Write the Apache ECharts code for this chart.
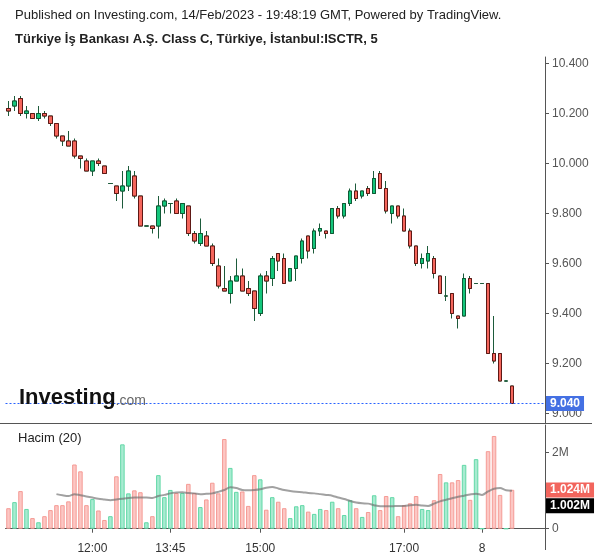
<!DOCTYPE html>
<html>
<head>
<meta charset="utf-8">
<script src="https://cdn.jsdelivr.net/npm/echarts@6.0.0/dist/echarts.min.js"></script>
<style>
html,body{margin:0;padding:0;background:#fff;}
#chart{width:600px;height:558px;}
</style>
</head>
<body>
<div id="chart"></div>
<script>
// ---- data ----
const categories = [
 '10:50','10:55','11:00','11:05','11:10','11:15','11:20','11:25','11:30','11:35','11:40','11:45','11:50','11:55',
 '12:00','12:05','12:10','12:15','12:20','12:25','12:30',
 '13:15','13:20','13:25','13:30','13:35','13:40','13:45','13:50','13:55','14:00','14:05','14:10','14:15','14:20','14:25','14:30','14:35','14:40','14:45','14:50','14:55',
 '15:00','15:05','15:10','15:15','15:20','15:25','15:30','15:35','15:40','15:45','15:50','15:55','16:00','16:05','16:10','16:15','16:20','16:25','16:30','16:35','16:40','16:45','16:50','16:55','17:00',
 '17:05','17:10','17:15','17:20','17:25','17:30','17:35','17:40','17:45','17:50','17:55','18:00',
 '8 10:00','8 10:05','8 10:10','8 10:15','8 10:20','8 10:25'
];
const opens = [10.22,10.23,10.26,10.20,10.20,10.18,10.20,10.19,10.16,10.11,10.09,10.09,10.03,10.01,9.97,10.01,9.99,9.92,9.91,9.89,
 9.91,9.95,9.87,9.75,9.75,9.75,9.83,9.84,9.85,9.80,9.83,9.72,9.68,9.71,9.67,9.59,9.50,9.48,9.53,9.55,
 9.50,9.49,9.40,9.55,9.54,9.64,9.62,9.53,9.58,9.62,9.71,9.66,9.73,9.73,9.72,9.82,9.79,9.84,9.89,9.87,
 9.90,9.88,9.96,9.90,9.80,9.83,9.79,9.73,9.67,9.60,9.61,9.62,9.55,9.47,9.48,9.39,9.39,9.54,9.52,9.52,
 9.52,9.24,9.24,9.13,9.11];
const closes = [10.21,10.25,10.20,10.21,10.18,10.20,10.19,10.16,10.11,10.09,10.07,10.03,10.02,9.97,10.01,10.00,9.96,9.92,9.88,9.91,
 9.97,9.87,9.75,9.75,9.74,9.83,9.85,9.84,9.80,9.84,9.72,9.69,9.72,9.67,9.60,9.51,9.49,9.53,9.55,9.49,
 9.48,9.42,9.55,9.53,9.62,9.61,9.52,9.58,9.63,9.69,9.65,9.73,9.74,9.72,9.82,9.79,9.84,9.89,9.86,9.89,
 9.88,9.94,9.90,9.81,9.83,9.79,9.73,9.67,9.60,9.62,9.64,9.56,9.48,9.47,9.40,9.38,9.54,9.50,9.52,9.52,
 9.24,9.21,9.13,9.13,9.04];
const lows = [10.19,10.21,10.19,10.18,10.18,10.17,10.18,10.15,10.10,10.07,10.07,10.02,9.98,9.97,9.95,9.99,9.96,9.92,9.85,9.82,
 9.89,9.86,9.75,9.75,9.72,9.70,9.80,9.80,9.80,9.78,9.71,9.68,9.67,9.67,9.59,9.50,9.49,9.44,9.53,9.49,
 9.47,9.37,9.39,9.48,9.51,9.57,9.52,9.53,9.53,9.60,9.62,9.64,9.71,9.70,9.72,9.78,9.78,9.83,9.85,9.86,
 9.87,9.88,9.90,9.80,9.76,9.78,9.73,9.66,9.59,9.58,9.58,9.54,9.48,9.45,9.38,9.34,9.39,9.48,9.52,9.52,
 9.24,9.20,9.13,9.13,9.04];
const highs = [10.25,10.27,10.27,10.23,10.20,10.23,10.21,10.19,10.16,10.11,10.13,10.10,10.03,10.02,10.01,10.02,9.99,9.92,9.91,9.97,
 9.99,9.97,9.87,9.75,9.75,9.87,9.86,9.84,9.86,9.84,9.83,9.73,9.78,9.73,9.68,9.62,9.59,9.55,9.62,9.58,
 9.53,9.49,9.56,9.57,9.63,9.64,9.64,9.58,9.63,9.70,9.71,9.74,9.76,9.73,9.82,9.83,9.84,9.90,9.92,9.89,
 9.91,9.97,9.97,9.93,9.83,9.83,9.82,9.74,9.67,9.64,9.67,9.63,9.55,9.55,9.48,9.39,9.56,9.55,9.52,9.52,
 9.52,9.39,9.24,9.13,9.11];
// volume in millions
const volumes = [0.54,0.70,0.99,0.52,0.28,0.17,0.33,0.49,0.62,0.62,0.72,1.69,1.51,0.62,0.78,0.48,0.23,0.33,1.38,2.22,
 0.93,1.01,0.96,0.17,0.33,1.41,0.83,1.02,0.94,0.94,1.18,0.94,0.57,0.77,1.21,0.93,2.36,1.60,0.97,0.98,
 0.60,1.41,1.30,0.50,0.83,0.71,0.54,0.28,0.59,0.62,0.45,0.39,0.52,0.49,0.71,0.54,0.36,0.75,0.54,0.31,
 0.44,0.88,0.49,0.86,0.83,0.33,0.62,0.67,0.86,0.52,0.49,0.75,1.44,1.22,1.22,1.28,1.68,0.76,1.83,0,
 2.04,2.44,0.89,0,1.024];
// 20-period volume average (Hacim (20)), millions
const volumeMA20 = [null,null,null,null,null,null,null,null,0.91,0.88,0.86,0.91,0.88,0.85,0.82,0.79,0.77,0.75,0.77,0.79,
 0.81,0.82,0.82,0.82,0.81,0.86,0.89,0.93,0.95,0.96,0.94,0.93,0.91,0.92,0.93,0.97,1.02,1.09,1.07,1.02,
 1.01,1.02,1.04,1.08,1.10,1.06,1.02,0.99,0.97,0.96,0.94,0.93,0.91,0.89,0.87,0.82,0.78,0.73,0.69,0.67,
 0.66,0.62,0.59,0.59,0.59,0.60,0.60,0.62,0.63,0.61,0.60,0.66,0.72,0.76,0.80,0.84,0.87,0.90,0.92,0.89,
 0.98,1.05,1.07,1.01,1.002];
const xTickIndex = [14, 27, 42, 66, 79];
const xTickLabels = ['12:00', '13:45', '15:00', '17:00', '8'];
const volumeTickLabels = {0: '0', 2: '2M'};
const emptySlots = 5; // right-hand empty space of the price scale

// ---- build ----
const FONT = '"Liberation Sans", Arial, sans-serif';
const cats = categories.concat(Array.from({length: emptySlots}, (_, i) => 'pad' + i));
const wickData = opens.map((o, i) => [o, closes[i], lows[i], highs[i]]);
const bodyData = opens.map((o, i) => [o, closes[i], Math.min(o, closes[i]), Math.max(o, closes[i])]);
const volData = volumes.map((v, i) => {
  const up = closes[i] >= opens[i];
  return {value: v, itemStyle: {color: up ? '#a8ebd1' : '#fcc7c4', borderColor: up ? '#62d8a7' : '#f59b95'}};
});
const lastClose = closes[closes.length - 1];
const lastVol = volumes[volumes.length - 1];
const lastMA = volumeMA20[volumeMA20.length - 1];

const WICK = '#1d5b3b';
const tickFn = (idx) => xTickIndex.indexOf(idx) >= 0;
const tagLabel = (text, bg, extra) => Object.assign({
  show: true, position: 'end', distance: 1, formatter: text,
  backgroundColor: bg, color: '#fff', fontWeight: 'bold', fontSize: 12, fontFamily: FONT, padding: [2, 4, 1, 4]
}, extra || {});

const chart = echarts.init(document.getElementById('chart'), null, {renderer: 'canvas'});
chart.setOption({
  animation: false,
  backgroundColor: '#fff',
  textStyle: {fontFamily: FONT},
  grid: [
    {left: 5.5, right: 55, top: 57, bottom: 135},
    {left: 5.5, right: 55, top: 425, bottom: 21}
  ],
  xAxis: [
    {type: 'category', gridIndex: 0, data: cats, boundaryGap: true,
     axisLine: {show: false}, axisTick: {show: false}, axisLabel: {show: false}, splitLine: {show: false}},
    {type: 'category', gridIndex: 1, data: cats, boundaryGap: true,
     axisLine: {show: true, lineStyle: {color: '#555', width: 1}},
     axisTick: {show: true, alignWithLabel: true, interval: tickFn, length: 4, lineStyle: {color: '#555'}},
     axisLabel: {show: true, interval: tickFn, color: '#333', fontSize: 12, fontFamily: FONT, margin: 6,
       formatter: (v, idx) => { const k = xTickIndex.indexOf(idx); return k >= 0 ? xTickLabels[k] : ''; }},
     splitLine: {show: false}}
  ],
  yAxis: [
    {type: 'value', gridIndex: 0, position: 'right', min: 8.962, max: 10.426, splitNumber: 7, scale: true,
     splitLine: {show: false},
     axisLine: {show: true, lineStyle: {color: '#555'}},
     axisTick: {show: true, length: 4, lineStyle: {color: '#555'}},
     axisLabel: {color: '#555', fontSize: 12, fontFamily: FONT, margin: 7, showMinLabel: false, showMaxLabel: false,
       formatter: v => v.toFixed(3)}},
    {type: 'value', gridIndex: 1, position: 'right', min: -0.218, max: 2.729, splitNumber: 3,
     splitLine: {show: false},
     axisLine: {show: true, lineStyle: {color: '#555'}},
     axisTick: {show: true, length: 4, lineStyle: {color: '#555'}},
     axisLabel: {color: '#555', fontSize: 12, fontFamily: FONT, margin: 7, showMinLabel: false, showMaxLabel: false,
       formatter: v => { const r = Math.round(v); return Math.abs(v - r) < 1e-9 && volumeTickLabels[r] !== undefined ? volumeTickLabels[r] : ''; }}}
  ],
  series: [
    {type: 'candlestick', name: 'wick', xAxisIndex: 0, yAxisIndex: 0, data: wickData, barWidth: 4, z: 2, silent: true,
     itemStyle: {color: 'rgba(0,0,0,0)', color0: 'rgba(0,0,0,0)', borderColor: WICK, borderColor0: WICK, borderColorDoji: WICK, borderWidth: 1}},
    {type: 'candlestick', name: 'ISCTR', xAxisIndex: 0, yAxisIndex: 0, data: bodyData, barWidth: 4, z: 3, silent: true,
     itemStyle: {color: '#14c67c', color0: '#f5665c', borderColor: '#0f5a35', borderColor0: '#5e1815', borderColorDoji: WICK, borderWidth: 1},
     markLine: {silent: true, symbol: ['none', 'none'], animation: false,
       lineStyle: {color: '#2962ff', type: [2, 2], width: 1},
       label: tagLabel(lastClose.toFixed(3), '#4470e3'),
       data: [{yAxis: lastClose}]}},
    {type: 'bar', name: 'Hacim', xAxisIndex: 1, yAxisIndex: 1, data: volData, barWidth: 4.5, silent: true,
     itemStyle: {borderWidth: 1},
     markLine: {silent: true, symbol: ['none', 'none'], animation: false, z: 10,
       lineStyle: {color: 'rgba(0,0,0,0)', width: 1},
       label: tagLabel(lastVol.toFixed(3) + 'M', '#f2655d'),
       data: [{yAxis: lastVol}]}},
    {type: 'line', name: 'MA20', xAxisIndex: 1, yAxisIndex: 1, data: volumeMA20, showSymbol: false, smooth: 0.3, z: 4, silent: true,
     lineStyle: {color: 'rgba(110,110,110,0.65)', width: 2},
     markLine: {silent: true, symbol: ['none', 'none'], animation: false, z: 10,
       lineStyle: {color: 'rgba(0,0,0,0)', width: 1},
       label: tagLabel(lastMA.toFixed(3) + 'M', '#000', {offset: [0, 15]}),
       data: [{yAxis: lastMA}]}}
  ],
  graphic: [
    {type: 'text', left: 15, top: 9, style: {text: 'Published on Investing.com, 14/Feb/2023 - 19:48:19 GMT, Powered by TradingView.', font: '13px ' + FONT, fill: '#222'}},
    {type: 'text', left: 15, top: 33, style: {text: 'Türkiye İş Bankası A.Ş. Class C, Türkiye, İstanbul:ISCTR, 5', font: 'bold 13px ' + FONT, fill: '#222'}},
    {type: 'text', left: 19, top: 387, z: 10, style: {
      text: '{a|Investing}{b|.com}',
      rich: {a: {fontSize: 22, fontWeight: 'bold', fill: '#111', fontFamily: FONT, letterSpacing: -0.5},
             b: {fontSize: 14, fill: '#666', fontFamily: FONT, padding: [6, 0, 0, 0]}}}},
    {type: 'text', left: 18, top: 432, style: {text: 'Hacim (20)', font: '13px ' + FONT, fill: '#222'}},
    {type: 'line', shape: {x1: 0, y1: 423.5, x2: 592, y2: 423.5}, style: {stroke: '#555', lineWidth: 1}},
    {type: 'line', shape: {x1: 545.5, y1: 537, x2: 545.5, y2: 550}, style: {stroke: '#555', lineWidth: 1}}
  ]
});
</script>
</body>
</html>
